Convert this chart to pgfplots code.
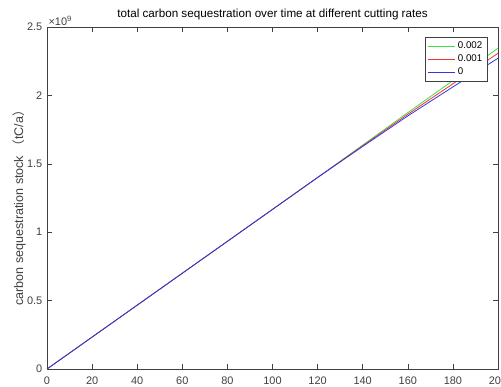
\documentclass[border=0pt]{standalone}
\usepackage{fontspec}
\setmainfont{Liberation Sans}
\newfontfamily\cjk{Noto Sans CJK SC}
\usepackage{pgfplots}
\pgfplotsset{compat=1.18}
\definecolor{axgray}{gray}{0.25}
\definecolor{lgreen}{rgb}{0.25,0.88,0.25}
\definecolor{lred}{rgb}{0.95,0.2,0.2}
\definecolor{lblue}{rgb}{0.2,0.2,0.92}
\begin{document}
\begin{tikzpicture}
\begin{axis}[
  scale only axis,
  width=338.25pt, height=256.5pt,
  xmin=0, xmax=200, ymin=0, ymax=2.5e9,
  xtick={0,20,...,200},
  xticklabels={0,20,40,60,80,100,120,140,160,180,200},
  ytick={0,0.5e9,1e9,1.5e9,2e9,2.5e9},
  yticklabels={0,0.5,1,1.5,2,2.5},
  scaled y ticks=false,
  tick align=inside,
  major tick length=3.5pt,
  axis line style={axgray},
  every tick/.style={axgray},
  ticklabel style={font=\fontsize{8.2}{9.5}\selectfont, text=axgray},
  xticklabel style={yshift=-2pt},
  title={total carbon sequestration over time at different cutting rates},
  title style={font=\fontsize{8.75}{10}\selectfont, yshift=-4.5pt},
  ylabel={carbon sequestration stock {\cjk （}tC/a{\cjk ）}},
  ylabel style={font=\fontsize{9.4}{11}\selectfont, text=axgray, at={(rel axis cs:-0.053,0.48)}, anchor=base},
  legend style={at={(0.976,0.97)}, anchor=north east, font=\fontsize{7.3}{8.5}\selectfont, draw=axgray, inner sep=1.5pt, row sep=-1pt, cells={anchor=west}},
  legend image code/.code={\draw[#1] (0cm,0cm) -- (0.72cm,0cm);},
  clip=false,
]
\addplot[color=lgreen, line width=0.6pt] coordinates {
(0,0) (20,0.2333e9) (40,0.4667e9) (60,0.7e9) (80,0.9333e9) (100,1.1667e9) (120,1.4e9) (140,1.637e9) (160,1.874e9) (180,2.108e9) (200,2.345e9)};
\addlegendentry{0.002}
\addplot[color=lred, line width=0.6pt] coordinates {
(0,0) (20,0.2333e9) (40,0.4667e9) (60,0.7e9) (80,0.9333e9) (100,1.1667e9) (120,1.4e9) (140,1.632e9) (160,1.862e9) (180,2.085e9) (200,2.308e9)};
\addlegendentry{0.001}
\addplot[color=lblue, line width=0.6pt] coordinates {
(0,0) (20,0.2333e9) (40,0.4667e9) (60,0.7e9) (80,0.9333e9) (100,1.1667e9) (120,1.4e9) (140,1.627e9) (160,1.850e9) (180,2.062e9) (200,2.272e9)};
\addlegendentry{0}
\node[anchor=south west, inner sep=1pt, font=\fontsize{8.2}{9.5}\selectfont, text=axgray] at (rel axis cs:0,1) {×10\textsuperscript{9}};
\end{axis}
\pgfresetboundingbox
\path ([xshift=-35.25pt,yshift=-13.5pt]current axis.south west) rectangle ([xshift=2.25pt,yshift=20.25pt]current axis.north east);
\end{tikzpicture}
\end{document}
